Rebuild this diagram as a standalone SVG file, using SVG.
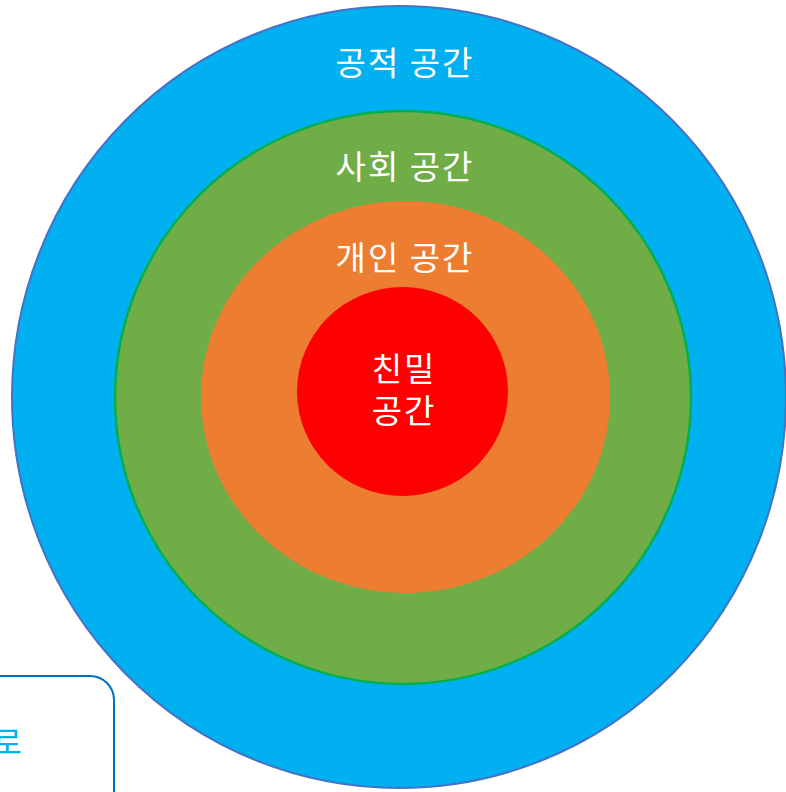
<svg xmlns="http://www.w3.org/2000/svg" width="786" height="792" viewBox="0 0 786 792">
<style>
.lbl{font-family:"Noto Sans CJK KR","Noto Sans",sans-serif;font-size:33px;letter-spacing:2px;fill:#ffffff;text-anchor:middle}
</style>
<rect width="786" height="792" fill="#ffffff"/>
<g id="public">
<ellipse cx="399" cy="397" rx="387" ry="391" fill="#00B0F0" stroke="#4472C4" stroke-width="2"/>
<text class="lbl" x="405" y="75">공적 공간</text>
</g>
<g id="social">
<ellipse cx="403" cy="397.5" rx="288" ry="286.5" fill="#70AD47" stroke="#00B050" stroke-width="2.5"/>
<text class="lbl" x="405" y="179">사회 공간</text>
</g>
<g id="personal">
<ellipse cx="405.5" cy="397" rx="204.5" ry="196" fill="#ED7D31"/>
<text class="lbl" x="405" y="270">개인 공간</text>
</g>
<g id="intimate">
<ellipse cx="402.5" cy="391.5" rx="105.5" ry="104.5" fill="#FF0000"/>
<text class="lbl" x="404" y="381"><tspan x="404" y="381">친밀</tspan><tspan x="404" y="423">공간</tspan></text>
</g>
<g id="note">
<rect x="-200" y="676" width="314" height="240" rx="24" ry="24" fill="#ffffff" stroke="#0070C0" stroke-width="2"/>
<text x="22" y="754" font-family="'Noto Sans CJK KR','Noto Sans',sans-serif" font-size="32" fill="#00B0F0" text-anchor="end">로</text>
</g>
<g id="connectors"></g>
</svg>
